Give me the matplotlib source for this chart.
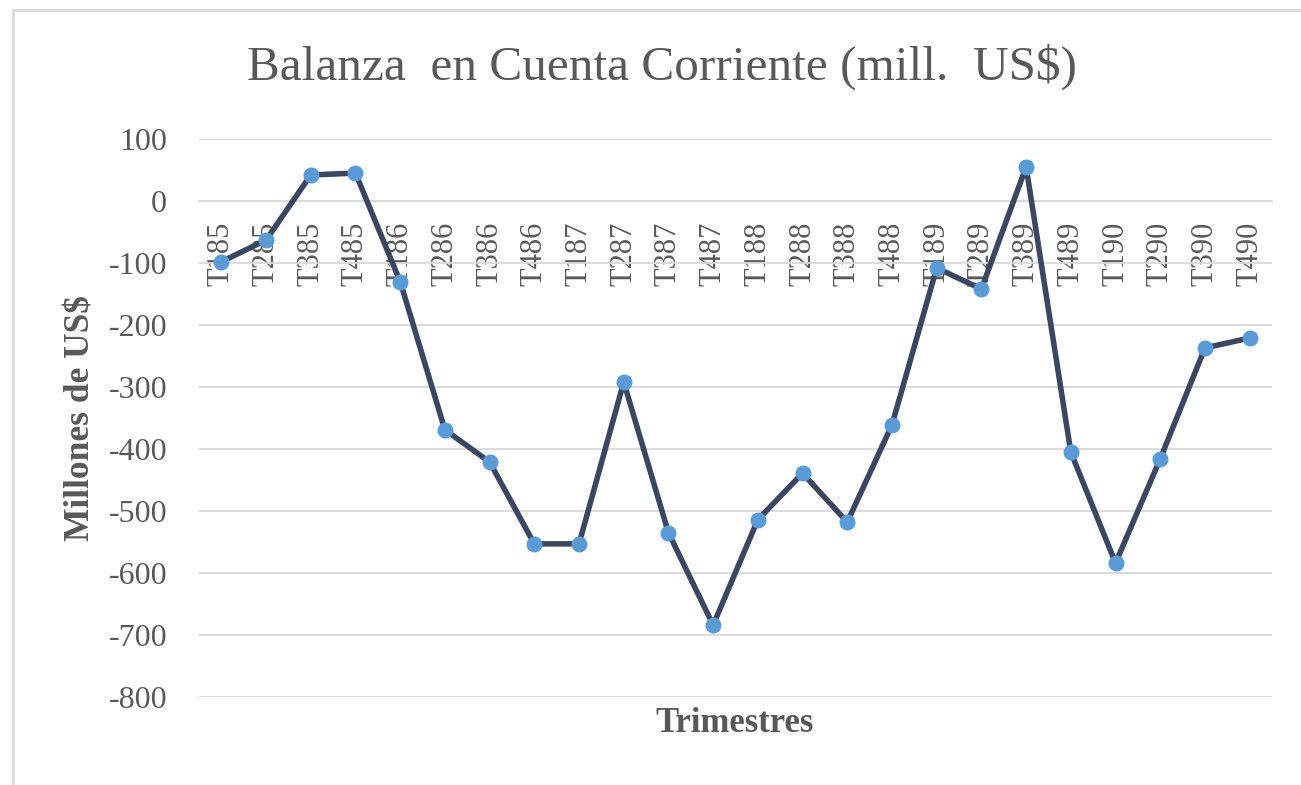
import matplotlib
matplotlib.use("Agg")
import matplotlib.pyplot as plt
from matplotlib.lines import Line2D

categories = ["T185", "T285", "T385", "T485", "T186", "T286", "T386", "T486",
              "T187", "T287", "T387", "T487", "T188", "T288", "T388", "T488",
              "T189", "T289", "T389", "T489", "T190", "T290", "T390", "T490"]
values = [-98, -63, 42, 45, -130, -369, -421, -553,
          -553, -292, -535, -684, -514, -439, -518, -361,
          -108, -142, 55, -405, -584, -416, -237, -221]
yticks = [100, 0, -100, -200, -300, -400, -500, -600, -700, -800]

title = "Balanza  en Cuenta Corriente (mill.  US$)"
xlabel = "Trimestres"
ylabel = "Millones de US$"

W, H = 1301, 785
fig = plt.figure(figsize=(W / 100, H / 100), dpi=100)
plt.rcParams['font.family'] = ['Liberation Serif', 'DejaVu Serif']
txt = "#595959"

ax = fig.add_axes([199 / W, (H - 697) / H, (1272 - 199) / W, (697 - 139) / H])
x = list(range(len(categories)))
ax.plot(x, values, color="#3B4760", lw=4.0, zorder=3,
        marker="o", markersize=10.5, markerfacecolor="#5B9BD5",
        markeredgecolor="#5B9BD5", solid_joinstyle="round")
ax.set_xlim(-0.5, len(categories) - 0.5)
ax.set_ylim(-800, 100)
ax.set_yticks(yticks)
ax.set_yticklabels([str(v) for v in yticks])
ax.yaxis.grid(True, color="#D9D9D9", lw=1.3, zorder=0)
ax.set_axisbelow(True)
for s in ["top", "right", "left"]:
    ax.spines[s].set_visible(False)
ax.spines["bottom"].set_position(("data", 0))
ax.spines["bottom"].set_color("#D9D9D9")
ax.spines["bottom"].set_linewidth(1.3)
ax.set_xticks(x)
ax.set_xticklabels(categories, rotation=90, va="top", ha="center")
ax.tick_params(axis="x", length=0, pad=15, labelsize=22, labelcolor=txt)
ax.tick_params(axis="y", length=0, pad=23, labelsize=23, labelcolor=txt)

ax.set_ylabel(ylabel, fontsize=25.5, fontweight="bold", color=txt, labelpad=8)
fig.text(735 / W, 1 - 724 / H, xlabel, fontsize=25, fontweight="bold",
         color=txt, ha="center", va="center")
fig.text(662 / W, 1 - 67 / H, title, fontsize=35.5, color=txt,
         ha="center", va="center")

# chart frame (top and left edges)
fig.add_artist(Line2D([13 / W, 1.0], [1 - 10 / H, 1 - 10 / H],
                      transform=fig.transFigure, color="#D9D9D9", lw=2))
fig.add_artist(Line2D([13 / W, 13 / W], [1 - 10 / H, 0],
                      transform=fig.transFigure, color="#D9D9D9", lw=2))

fig.savefig("out.png", dpi=100, facecolor="white")
